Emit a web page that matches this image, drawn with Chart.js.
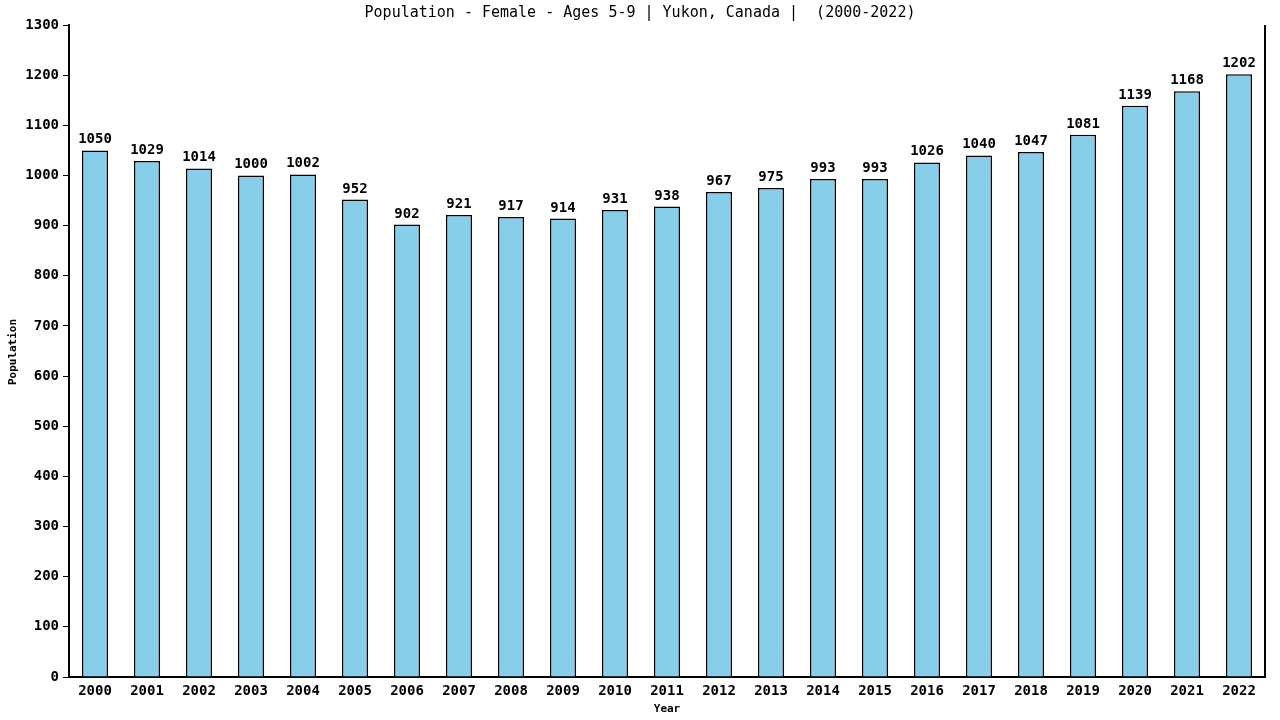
<!DOCTYPE html>
<html>
<head>
<meta charset="utf-8">
<script src="https://cdn.jsdelivr.net/npm/chart.js@4"></script>
<style>
html,body{margin:0;padding:0;background:#fff;}
canvas{display:block;}
</style>
</head>
<body>
<canvas id="c" width="1280" height="720"></canvas>
<script>
const years = ["2000","2001","2002","2003","2004","2005","2006","2007","2008","2009","2010","2011","2012","2013","2014","2015","2016","2017","2018","2019","2020","2021","2022"];
const population = [1050,1029,1014,1000,1002,952,902,921,917,914,931,938,967,975,993,993,1026,1040,1047,1081,1139,1168,1202];
const chartTitle = "Population - Female - Ages 5-9 | Yukon, Canada |  (2000-2022)";
const xTitle = "Year";
const yTitle = "Population";

const MONO = "'DejaVu Sans Mono', 'Liberation Mono', monospace";

const decor = {
  id: 'decor',
  afterDatasetsDraw(chart) {
    const ctx = chart.ctx;
    const meta = chart.getDatasetMeta(0);
    ctx.save();
    ctx.fillStyle = '#000';
    ctx.font = "bold 14px " + MONO;
    ctx.textAlign = 'center';
    ctx.textBaseline = 'alphabetic';
    meta.data.forEach((bar, i) => {
      ctx.fillText(String(population[i]), bar.x, bar.y - 7);
    });
    ctx.restore();
  },
  afterDraw(chart) {
    const ctx = chart.ctx;
    const a = chart.chartArea;
    ctx.save();
    ctx.strokeStyle = '#000';
    ctx.lineWidth = 2;
    ctx.beginPath();
    ctx.moveTo(a.right, a.top);
    ctx.lineTo(a.right, a.bottom);
    ctx.stroke();
    ctx.fillStyle = '#000';
    ctx.textAlign = 'center';
    ctx.textBaseline = 'middle';
    ctx.font = "15px " + MONO;
    ctx.fillText(chartTitle, 640, 13);
    ctx.font = "bold 11px " + MONO;
    ctx.fillText(xTitle, (a.left + a.right) / 2, 709);
    ctx.translate(13, 352);
    ctx.rotate(-Math.PI / 2);
    ctx.fillText(yTitle, 0, 0);
    ctx.restore();
  }
};

new Chart(document.getElementById('c'), {
  type: 'bar',
  data: {
    labels: years,
    datasets: [{
      data: population,
      backgroundColor: '#87CEEB',
      borderColor: '#000',
      borderWidth: 1.5,
      borderSkipped: 'bottom',
      barPercentage: 0.5,
      categoryPercentage: 1.0
    }]
  },
  options: {
    responsive: false,
    devicePixelRatio: 1,
    animation: false,
    layout: { padding: { top: 25, right: 15, left: 0, bottom: 0 } },
    plugins: { legend: { display: false }, title: { display: false }, tooltip: { enabled: false } },
    scales: {
      x: {
        grid: { display: false, drawTicks: false },
        border: { display: true, color: '#000', width: 2 },
        ticks: { color: '#000', font: { family: MONO, size: 14, weight: 'bold' }, padding: 6, maxRotation: 0, autoSkip: false },
        afterFit(s) { s.height = 43; }
      },
      y: {
        min: 0, max: 1300,
        grid: { display: true, drawOnChartArea: false, drawTicks: true, tickLength: 6, color: '#000' },
        border: { display: true, color: '#000', width: 2 },
        ticks: { stepSize: 100, color: '#000', font: { family: MONO, size: 14, weight: 'bold' }, padding: 4,
          callback: (v) => String(v) },
        afterFit(s) { s.width = 69; }
      }
    }
  },
  plugins: [decor]
});
</script>
</body>
</html>
